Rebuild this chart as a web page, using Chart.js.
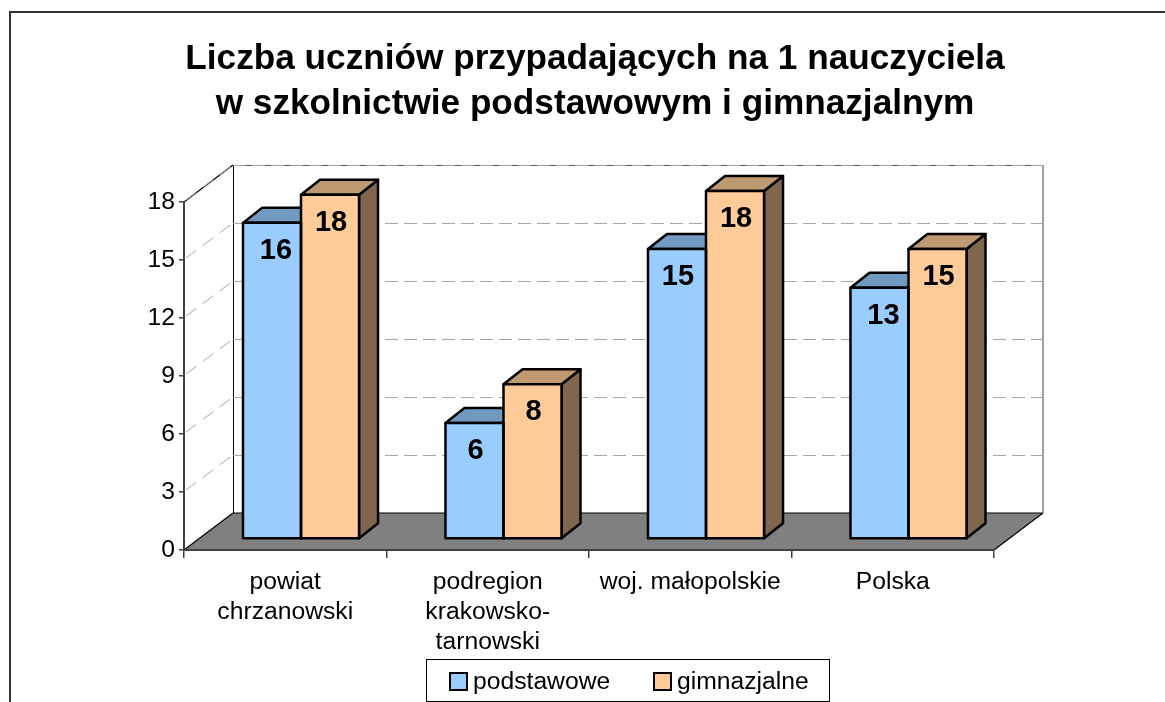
<!DOCTYPE html>
<html lang="pl">
<head>
<meta charset="utf-8">
<title>Liczba uczniów przypadających na 1 nauczyciela</title>
<script src="https://cdn.jsdelivr.net/npm/chart.js@4/dist/chart.umd.min.js"></script>
<style>
html,body{margin:0;padding:0;background:#fff;overflow:hidden}
canvas{display:block}
</style>
</head>
<body>
<canvas id="c" width="1165" height="702"></canvas>
<script>
const titleLines = ['Liczba uczniów przypadających na 1 nauczyciela', 'w szkolnictwie podstawowym i gimnazjalnym'];
const categories = [['powiat', 'chrzanowski'], ['podregion', 'krakowsko-', 'tarnowski'], 'woj. małopolskie', 'Polska'];
const podstawowe = [16.35, 6, 15, 13];
const gimnazjalne = [17.8, 8, 18, 15];
const podstawoweLabels = ['16', '6', '15', '13'];
const gimnazjalneLabels = ['18', '8', '18', '15'];
const yMax = 18;
const yStep = 3;

const FONT = '"Liberation Sans", Arial, sans-serif';
const WALL = {x: 49, y: -37};     // depth of the box
const BAR_SHIFT = {x: 15.75, y: -11};
const BAR_DEPTH = {x: 19, y: -15};
const BAR_LINE = 2.5;
const faces = [
  {front: '#99CCFF', top: '#7299BF', side: '#4C667F', text: podstawoweLabels, nudge: [4, 1, 1, 4]},
  {front: '#FFCC99', top: '#BF9972', side: '#7F664C', text: gimnazjalneLabels, nudge: [1, 1, 1, 1]}
];

function poly(ctx, pts, fill, stroke, lw) {
  ctx.beginPath();
  pts.forEach((p, i) => i ? ctx.lineTo(p[0], p[1]) : ctx.moveTo(p[0], p[1]));
  ctx.closePath();
  if (fill) { ctx.fillStyle = fill; ctx.fill(); }
  if (stroke) { ctx.strokeStyle = stroke; ctx.lineWidth = lw; ctx.stroke(); }
}
function line(ctx, x1, y1, x2, y2, color, lw, dash) {
  ctx.beginPath();
  ctx.setLineDash(dash || []);
  ctx.moveTo(x1, y1);
  ctx.lineTo(x2, y2);
  ctx.strokeStyle = color;
  ctx.lineWidth = lw;
  ctx.stroke();
  ctx.setLineDash([]);
}

const box3d = {
  id: 'box3d',
  afterLayout(chart) {
    chart.titleBlock.left += 98;
    chart.titleBlock.right += 98;
  },
  beforeDraw(chart) {
    const ctx = chart.ctx;
    const a = chart.chartArea;
    const y = chart.scales.y;
    ctx.save();
    // picture frame
    ctx.strokeStyle = '#333333';
    ctx.lineWidth = 2;
    ctx.strokeRect(10, 12, 1300, 900);
    // floor
    poly(ctx, [[a.left, a.bottom], [a.left + WALL.x, a.bottom + WALL.y], [a.right + WALL.x, a.bottom + WALL.y], [a.right, a.bottom]], '#808080', null);
    line(ctx, a.left, a.bottom, a.left + WALL.x, a.bottom + WALL.y, '#000', 1.2);
    line(ctx, a.left + WALL.x, a.bottom + WALL.y, a.right + WALL.x, a.bottom + WALL.y, '#000', 1.2);
    line(ctx, a.right, a.bottom, a.right + WALL.x, a.bottom + WALL.y, '#000', 1.2);
    // walls
    line(ctx, a.left, a.top, a.left + WALL.x, a.top + WALL.y, '#000', 1.2);
    line(ctx, a.left + WALL.x + .5, a.top + WALL.y, a.left + WALL.x + .5, a.bottom + WALL.y, '#000', 1);
    line(ctx, a.right + WALL.x, a.top + WALL.y, a.right + WALL.x, a.bottom + WALL.y, '#808080', 1.5);
    line(ctx, a.left + WALL.x, a.top + WALL.y + .5, a.right + WALL.x, a.top + WALL.y + .5, '#555555', 1);
    // dashed gridlines on the side and back walls
    for (let v = 0; v <= yMax; v += yStep) {
      const py = y.getPixelForValue(v);
      if (v > 0) {
        line(ctx, a.left + 2, py - 2, a.left + WALL.x, py + WALL.y, '#A6A6A6', 1, [13, 8]);
        line(ctx, a.left + WALL.x, py + WALL.y + .5, a.right + WALL.x, py + WALL.y + .5, '#A6A6A6', 1, [13, 6]);
      }
    }
    ctx.restore();
  },
  beforeDatasetsDraw(chart) {
    const ctx = chart.ctx;
    ctx.save();
    ctx.translate(BAR_SHIFT.x, BAR_SHIFT.y);
    ctx.lineJoin = 'round';
    chart.data.datasets.forEach((ds, i) => {
      chart.getDatasetMeta(i).data.forEach(bar => {
        const l = bar.x - bar.width / 2, r = bar.x + bar.width / 2;
        const t = bar.y, b = bar.base;
        const dx = BAR_DEPTH.x, dy = BAR_DEPTH.y;
        poly(ctx, [[r, t], [r + dx, t + dy], [r + dx, b + dy], [r, b]], faces[i].side, '#000', BAR_LINE);
        poly(ctx, [[l, t], [l + dx, t + dy], [r + dx, t + dy], [r, t]], faces[i].top, '#000', BAR_LINE);
      });
    });
    // translation stays active while the library paints the bar fronts
  },
  afterDatasetsDraw(chart) {
    const ctx = chart.ctx;
    // outlines of the bar fronts, centred on the bar edges
    ctx.strokeStyle = '#000';
    ctx.lineWidth = BAR_LINE;
    chart.data.datasets.forEach((ds, i) => {
      chart.getDatasetMeta(i).data.forEach(bar => {
        ctx.strokeRect(bar.x - bar.width / 2, bar.y, bar.width, bar.base - bar.y);
      });
    });
    ctx.restore();
    ctx.save();
    ctx.font = 'bold 29px ' + FONT;
    ctx.fillStyle = '#000';
    ctx.textAlign = 'center';
    ctx.textBaseline = 'middle';
    chart.data.datasets.forEach((ds, i) => {
      chart.getDatasetMeta(i).data.forEach((bar, k) => {
        ctx.fillText(faces[i].text[k], bar.x + BAR_SHIFT.x + faces[i].nudge[k], bar.y + BAR_SHIFT.y + 28);
      });
    });
    ctx.restore();
  },
  afterDraw(chart) {
    const ctx = chart.ctx;
    ctx.save();
    // legend
    ctx.strokeStyle = '#000';
    ctx.lineWidth = 1;
    ctx.fillStyle = '#fff';
    ctx.fillRect(426.5, 659.5, 403, 42);
    ctx.strokeRect(426.5, 659.5, 403, 42);
    const keyX = [450, 654];
    ctx.font = '24.7px ' + FONT;
    ctx.textBaseline = 'middle';
    ctx.textAlign = 'left';
    chart.data.datasets.forEach((ds, i) => {
      ctx.fillStyle = ds.backgroundColor;
      ctx.fillRect(keyX[i], 673, 17, 17);
      ctx.strokeStyle = '#000';
      ctx.lineWidth = 2;
      ctx.strokeRect(keyX[i], 673, 17, 17);
      ctx.fillStyle = '#000';
      ctx.fillText(ds.label, keyX[i] + 23, 682);
    });
    ctx.restore();
  }
};

new Chart(document.getElementById('c'), {
  type: 'bar',
  plugins: [box3d],
  data: {
    labels: categories,
    datasets: [
      {label: 'podstawowe', data: podstawowe, backgroundColor: '#99CCFF', borderWidth: 0, clip: false},
      {label: 'gimnazjalne', data: gimnazjalne, backgroundColor: '#FFCC99', borderWidth: 0, clip: false}
    ]
  },
  options: {
    responsive: false,
    animation: false,
    layout: {padding: {left: 0, right: 171, top: 0, bottom: 0}},
    datasets: {bar: {barPercentage: 1, categoryPercentage: 0.573}},
    plugins: {
      legend: {display: false},
      tooltip: {enabled: false},
      title: {
        display: true,
        text: titleLines,
        color: '#000',
        font: {family: FONT, size: 35.2, weight: 'bold', lineHeight: 1.278},
        padding: {top: 37, bottom: 75}
      }
    },
    scales: {
      x: {
        afterFit(s) { s.height = 152; },
        border: {color: '#404040', width: 2},
        grid: {drawOnChartArea: false, drawTicks: true, tickLength: 8, color: '#404040', lineWidth: 1.5},
        ticks: {color: '#000', font: {family: FONT, size: 24.7, lineHeight: 1.215}, maxRotation: 0, autoSkip: false, padding: 9}
      },
      y: {
        min: 0, max: yMax,
        afterFit(s) { s.width = 184; },
        border: {color: '#404040', width: 2},
        grid: {drawOnChartArea: false, drawTicks: true, tickLength: 5, color: '#404040', lineWidth: 1.5},
        ticks: {stepSize: yStep, color: '#000', font: {family: FONT, size: 24.7}, padding: 4}
      }
    }
  }
});
</script>
</body>
</html>
